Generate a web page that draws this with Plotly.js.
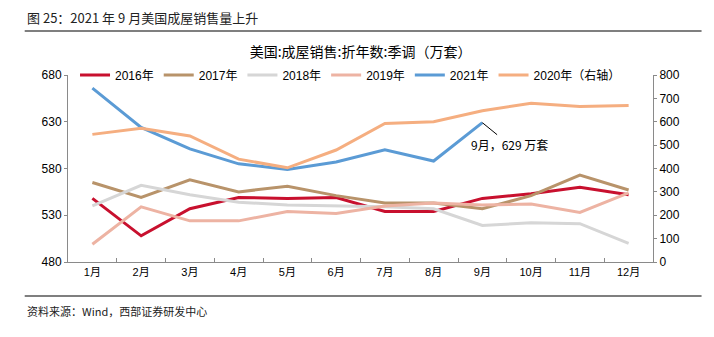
<!DOCTYPE html>
<html>
<head>
<meta charset="utf-8">
<script src="https://cdn.plot.ly/plotly-3.0.1.min.js"></script>
<style>
  html, body { margin: 0; padding: 0; background: #fff; }
  #chart { width: 714px; height: 337px; }
</style>
</head>
<body>
<div id="chart"></div>
<script>
const months = ["1月","2月","3月","4月","5月","6月","7月","8月","9月","10月","11月","12月"];
const y2016 = [548, 508, 537, 549, 548, 549, 534, 534, 548, 553, 560, 552];
const y2017 = [565, 549, 568, 555, 561, 551, 543, 543, 537, 551, 573, 557];
const y2018 = [540, 562, 552, 544, 541, 540, 539, 537, 519, 522, 521, 500];
const y2019 = [499, 539, 524, 524, 534, 532, 540, 543, 541, 542, 533, 554];
const y2021 = [666, 624, 601, 585, 579, 587, 600, 588, 629];
const y2020 = [546, 572, 539, 440, 403, 479, 593, 600, 647, 679, 665, 670];

const font = "Liberation Sans, Arial, 'Noto Sans CJK SC', sans-serif";
const cjk = "'Noto Sans CJK SC', 'Liberation Sans', sans-serif";

function line(name, y, color, axis) {
  return {
    type: "scatter", mode: "lines", name: name,
    x: months.slice(0, y.length), y: y,
    yaxis: axis || "y",
    line: { color: color, width: 3 },
    hoverinfo: "skip"
  };
}

const traces = [
  line("2016年", y2016, "#C8102E"),
  line("2017年", y2017, "#B8936A"),
  line("2018年", y2018, "#D6D6D6"),
  line("2019年", y2019, "#EDB3A3"),
  line("2021年", y2021, "#5B9BD5"),
  line("2020年（右轴）", y2020, "#F5AE80", "y2")
];

const axisColor = "#8a8a8a";
const layout = {
  width: 714, height: 337,
  margin: { l: 68, r: 61, t: 75, b: 75 },
  paper_bgcolor: "#fff", plot_bgcolor: "#fff",
  font: { family: font, size: 12, color: "#000" },
  title: {
    text: "美国:成屋销售:折年数:季调（万套）",
    font: { family: cjk, size: 14, color: "#000" },
    x: 0.505, xanchor: "center", y: 0.845, yanchor: "middle"
  },
  showlegend: true,
  legend: {
    orientation: "h", x: 0.012, xanchor: "left", y: 1.0, yanchor: "middle",
    bgcolor: "rgba(0,0,0,0)", font: { family: font, size: 12, color: "#000" }
  },
  xaxis: {
    type: "category", range: [-0.5, 11.5],
    showline: true, linecolor: axisColor, linewidth: 1,
    ticks: "inside", ticklen: 4, tickcolor: axisColor, tickson: "boundaries",
    showgrid: false, zeroline: false,
    tickfont: { family: font, size: 11, color: "#000" }
  },
  yaxis: {
    range: [480, 680], dtick: 50, tick0: 480,
    showline: true, linecolor: axisColor, linewidth: 1,
    ticks: "outside", ticklen: 3, tickcolor: axisColor,
    showgrid: false, zeroline: false,
    tickfont: { family: font, size: 12, color: "#000" }
  },
  yaxis2: {
    range: [0, 800], dtick: 100, tick0: 0,
    overlaying: "y", side: "right",
    showline: true, linecolor: axisColor, linewidth: 1,
    ticks: "outside", ticklen: 3, tickcolor: axisColor,
    showgrid: false, zeroline: false,
    tickfont: { family: font, size: 12, color: "#000" }
  },
  shapes: [
    { type: "line", xref: "paper", yref: "paper", x0: -0.074, x1: 1.083, y0: 1.235, y1: 1.235,
      line: { color: "#7f7f7f", width: 2 } },
    { type: "line", xref: "paper", yref: "paper", x0: -0.074, x1: 1.083, y0: -0.182, y1: -0.182,
      line: { color: "#7f7f7f", width: 2 } }
  ],
  annotations: [
    { xref: "paper", yref: "paper", x: -0.074, y: 1.31, xanchor: "left", yanchor: "middle",
      text: "图 25：2021 年 9 月美国成屋销售量上升", showarrow: false,
      font: { family: cjk, size: 13, color: "#222" } },
    { xref: "paper", yref: "paper", x: -0.074, y: -0.262, xanchor: "left", yanchor: "middle",
      text: "资料来源：Wind，西部证券研发中心", showarrow: false,
      font: { family: cjk, size: 11, color: "#222" } },
    { x: months[8], y: y2021[8], xref: "x", yref: "y",
      text: "9月，" + y2021[8] + " 万套", showarrow: true, arrowhead: 0, arrowwidth: 1,
      arrowcolor: "#000", ax: 27, ay: 22,
      font: { family: cjk, size: 12, color: "#000" } }
  ]
};

Plotly.newPlot("chart", traces, layout, { staticPlot: true, displayModeBar: false });
</script>
</body>
</html>
